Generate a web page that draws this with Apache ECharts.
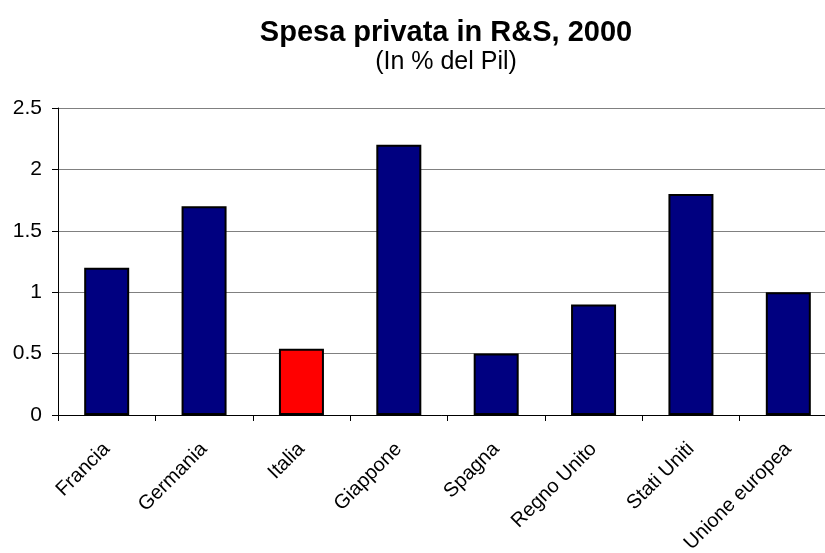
<!DOCTYPE html>
<html>
<head>
<meta charset="utf-8">
<script src="https://cdn.jsdelivr.net/npm/echarts@6/dist/echarts.min.js"></script>
<style>
html,body{margin:0;padding:0;background:#fff;overflow:hidden;}
#chart{width:825px;height:553px;}
</style>
</head>
<body>
<div id="chart"></div>
<script>
const categories = ['Francia','Germania','Italia','Giappone','Spagna','Regno Unito','Stati Uniti','Unione europea'];
const values = [1.2, 1.7, 0.54, 2.2, 0.5, 0.9, 1.8, 1.0];
const highlightCategory = 'Italia';
const yTicks = [0, 0.5, 1, 1.5, 2, 2.5];

const FONT = '"Liberation Sans", Arial, sans-serif';
const chart = echarts.init(document.getElementById('chart'), null, {renderer: 'canvas'});
chart.setOption({
  animation: false,
  backgroundColor: '#ffffff',
  title: {
    text: 'Spesa privata in R&S, 2000',
    subtext: '(In % del Pil)',
    left: 441,
    textAlign: 'center',
    top: 13,
    itemGap: 3,
    textStyle: {fontFamily: FONT, fontSize: 29, fontWeight: 'bold', color: '#000'},
    subtextStyle: {fontFamily: FONT, fontSize: 25, color: '#000'}
  },
  grid: {left: 58, top: 108, width: 779, height: 307, containLabel: false, outerBoundsMode: 'none'},
  xAxis: {
    type: 'category',
    data: categories,
    axisLine: {lineStyle: {color: '#000', width: 1}},
    axisTick: {show: true, alignWithLabel: false, length: 6, lineStyle: {color: '#000'}},
    axisLabel: {rotate: 45, interval: 0, margin: 31, fontFamily: FONT, fontSize: 20, color: '#000'},
    splitLine: {show: false}
  },
  yAxis: {
    type: 'value',
    min: yTicks[0],
    max: yTicks[yTicks.length - 1],
    interval: 0.5,
    axisLine: {show: true, lineStyle: {color: '#000', width: 1}},
    axisTick: {show: true, length: 6, lineStyle: {color: '#000'}},
    axisLabel: {margin: 16, fontFamily: FONT, fontSize: 21, color: '#000'},
    splitLine: {show: true, lineStyle: {color: '#808080', width: 1}}
  },
  series: [{
    type: 'bar',
    barWidth: 45,
    data: values.map((v, i) => ({
      value: v,
      itemStyle: {color: categories[i] === highlightCategory ? '#ff0000' : '#000080'}
    })),
    itemStyle: {borderColor: '#000', borderWidth: 2}
  }]
});
</script>
</body>
</html>
